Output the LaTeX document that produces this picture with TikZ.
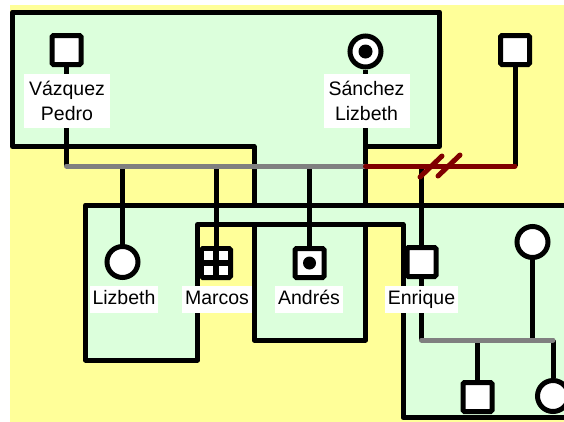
\documentclass[tikz,border=0pt]{standalone}
\usepackage{fontspec}
\setmainfont{Liberation Sans}
\definecolor{gnyellow}{HTML}{FFFF99}
\definecolor{gngreen}{HTML}{DCFFDC}
\definecolor{gngray}{HTML}{808080}
\definecolor{gnred}{HTML}{800000}

\begin{document}
\begin{tikzpicture}[x=1pt, y=-1pt,
    hh/.style={draw=black, fill=gngreen, line width=5pt, line join=round},
    male/.style={rectangle, draw=black, fill=white, line width=5pt,
      rounded corners=1.5pt, minimum size=29pt, inner sep=0pt},
    female/.style={circle, draw=black, fill=white, line width=5pt,
      minimum size=31pt, inner sep=0pt},
    tie/.style={draw=black, line width=5pt},
    wed/.style={draw=gngray, line width=5pt, line cap=round},
    divorce/.style={draw=gnred, line width=5pt, line cap=round},
    lbl/.style={fill=white, inner xsep=3pt, inner ysep=4pt,
      font=\fontsize{19.5}{25.7}\selectfont, text height=14.3pt, text depth=4.7pt},
    lbl2/.style={fill=white, inner xsep=5pt, inner ysep=0pt, align=center,
      minimum width=86pt, minimum height=54pt,
      font=\fontsize{19.5}{25.7}\selectfont},
  ]
  \useasboundingbox (0,0) rectangle (564,421);
  \clip (0,0) rectangle (564,421);
  \fill[gnyellow] (10,5) rectangle (580,430);

  % Households
  \draw[hh] (12.5,12) -- (439.5,12) -- (439.5,146.5) -- (365.5,146.5) -- (365.5,340)
    -- (254,340) -- (254,146.5) -- (12.5,146.5) -- cycle;
  \draw[hh] (85.5,205) -- (580,205) -- (580,417.5) -- (403,417.5) -- (403,224.5)
    -- (197.5,224.5) -- (197.5,360) -- (85.5,360) -- cycle;

  % People
  \node[male] (pedro) at (66.5,50) {};
  \node[female] (sanchez) at (365.5,51.5) {};
  \node[male] (ex) at (515,50) {};
  \node[female] (lizbeth) at (122.5,262) {};
  \node[male, fill=black] (marcos) at (216,263) {};
  \node[male] (andres) at (309.5,263) {};
  \node[male] (enrique) at (421.5,262) {};
  \node[female] (wife) at (532.5,242) {};
  \node[male] (son) at (477.5,397) {};
  \node[female] (daughter) at (553,396) {};

  % Unions
  \coordinate (m1a) at (66.5,166);
  \coordinate (m1b) at (365.5,166);
  \coordinate (m2b) at (515,166);
  \coordinate (cut) at (440,166);
  \coordinate (m3a) at (421.5,340);
  \coordinate (m3b) at (553,340);

  \draw[tie] (pedro.south) -- (m1a);
  \draw[tie] (sanchez.south) -- (m1b);
  \draw[tie] (ex.south) -- (m2b);
  \draw[tie] (lizbeth |- m1a) -- (lizbeth.north);
  \draw[tie] (marcos |- m1a) -- (marcos.north);
  \draw[tie] (andres |- m1a) -- (andres.north);
  \draw[tie] (enrique |- m1a) -- (enrique.north);
  \draw[tie] (enrique.south) -- (m3a);
  \draw[tie] (wife.south) -- (wife |- m3a);
  \draw[tie] (son |- m3a) -- (son.north);
  \draw[tie] (daughter |- m3a) -- (daughter.north);

  \draw[wed] (m1a) -- (m1b);
  \draw[divorce] (m1b) -- (m2b);
  % divorce marks
  \draw[divorce] ([shift={(-20,11)}]cut) -- ++(22,-21);
  \draw[divorce] ([shift={(-2,10)}]cut) -- ++(22,-21);
  \draw[wed] (m3a) -- (m3b);

  % Symbol details
  \foreach \dx in {-7.5,7.5}
    \foreach \dy in {-7.5,7.5}
      \fill[white] ([shift={(\dx-4.5,\dy-4.5)}]marcos.center) rectangle ++(9,9);
  \fill (sanchez) circle (7pt);
  \fill (andres) circle (6.5pt);

  % Names
  \node[lbl2] (pedrolbl) at (67,101) {Vázquez\\Pedro};
  \node[lbl2] (sanchezlbl) at (366.5,101) {Sánchez\\Lizbeth};
  \node[lbl] (lizbethlbl) at (124,299.5) {Lizbeth};
  \node[lbl] (marcoslbl) at (217,299.5) {Marcos};
  \node[lbl] (andreslbl) at (309,299.5) {Andrés};
  \node[lbl] (enriquelbl) at (421.5,299.5) {Enrique};
\end{tikzpicture}
\end{document}
